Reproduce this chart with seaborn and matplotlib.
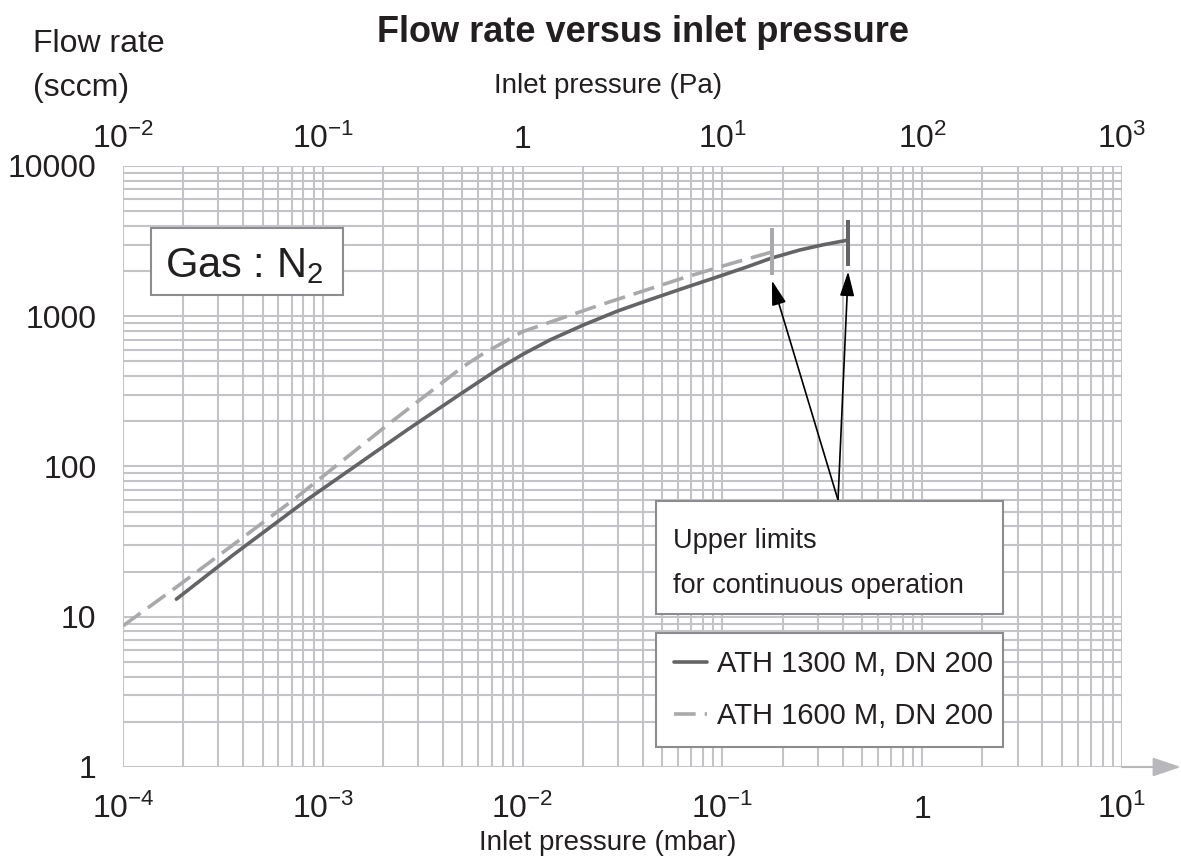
import numpy as np
import pandas as pd
import matplotlib
matplotlib.use("Agg")
import matplotlib.pyplot as plt
from matplotlib.patches import Rectangle
from matplotlib.ticker import LogLocator, NullLocator, NullFormatter
import seaborn as sns

# ---------------------------------------------------------------- data
label_1300 = "ATH 1300 M, DN 200"
label_1600 = "ATH 1600 M, DN 200"

# inlet pressure (mbar) / flow rate (sccm)
p_1300 = [1.85e-4, 3.56e-4, 8.3e-4, 2.64e-3, 5.0e-3, 7.7e-3, 1.0e-2, 1.37e-2, 2.0e-2,
          3.0e-2, 4.34e-2, 6.3e-2, 9.4e-2, 1.3e-1, 1.77e-1, 2.44e-1, 3.2e-1, 4.26e-1]
q_1300 = [13.1, 25.8, 59.8, 175, 310, 453, 557, 695, 871,
          1086, 1290, 1528, 1824, 2110, 2443, 2760, 2992, 3215]

p_1600 = [1.0e-4, 1.82e-4, 7.1e-4, 2.17e-3, 5.0e-3, 6.3e-3, 1.0e-2, 2.44e-2, 6.35e-2,
          1.13e-1, 1.77e-1]
q_1600 = [8.7, 15.5, 59.8, 195, 459, 560, 790, 1188, 1796,
          2262, 2678]

# upper limits for continuous operation (pressure, flow span of the marker)
limit_p = [0.177, 0.426]
limit_q_low = [1880, 2160]
limit_q_high = [3870, 4370]

x_ticks_mbar = [1e-4, 1e-3, 1e-2, 1e-1, 1, 1e1]
x_labels_mbar = [r"$\mathregular{10^{-4}}$", r"$\mathregular{10^{-3}}$", r"$\mathregular{10^{-2}}$",
                 r"$\mathregular{10^{-1}}$", "1", r"$\mathregular{10^{1}}$"]
x_ticks_pa = [1e-2, 1e-1, 1, 1e1, 1e2, 1e3]
x_labels_pa = [r"$\mathregular{10^{-2}}$", r"$\mathregular{10^{-1}}$", "1",
               r"$\mathregular{10^{1}}$", r"$\mathregular{10^{2}}$", r"$\mathregular{10^{3}}$"]
y_ticks = [1, 10, 100, 1000, 10000]
y_labels = ["1", "10", "100", "1000", "10000"]

# ---------------------------------------------------------------- style
sns.set_style("white")
plt.rcParams["font.family"] = ["Liberation Sans", "DejaVu Sans"]
plt.rcParams["mathtext.fontset"] = "custom"
plt.rcParams["mathtext.rm"] = "Liberation Sans"
plt.rcParams["mathtext.it"] = "Liberation Sans"
plt.rcParams["mathtext.bf"] = "Liberation Sans:bold"

TEXT = "#231f20"
GRID = "#c4c4c8"
DARK = "#646467"
LIGHT = "#a9a9ac"
FRAME = "#8c8c90"

W, H = 1181, 865


def fx(px):
    return px / W


def fy(py):
    return 1 - py / H


fig = plt.figure(figsize=(W / 100, H / 100), dpi=100)
ax = fig.add_axes([fx(123), fy(767), (1122 - 123) / W, (767 - 166) / H])

ax.set_xscale("log")
ax.set_yscale("log")

df = pd.concat([
    pd.DataFrame({"p": p_1300, "q": q_1300, "model": label_1300}),
    pd.DataFrame({"p": p_1600, "q": q_1600, "model": label_1600}),
], ignore_index=True)

sns.lineplot(data=df, x="p", y="q", hue="model", style="model",
             palette={label_1300: DARK, label_1600: LIGHT},
             dashes={label_1300: "", label_1600: (6, 2.5)},
             linewidth=2.6, sort=False, estimator=None, legend=False, ax=ax)

# limit markers
ax.vlines(limit_p[0], limit_q_low[0], limit_q_high[0], color=LIGHT, lw=2.9, zorder=3)
ax.vlines(limit_p[1], limit_q_low[1], limit_q_high[1], color=DARK, lw=2.9, zorder=3)

ax.set_xlim(1e-4, 1e1)
ax.set_ylim(1, 1e4)

# grid
ax.xaxis.set_minor_locator(LogLocator(base=10, subs=np.arange(2, 10), numticks=20))
ax.yaxis.set_minor_locator(LogLocator(base=10, subs=np.arange(2, 10), numticks=20))
ax.xaxis.set_minor_formatter(NullFormatter())
ax.yaxis.set_minor_formatter(NullFormatter())
ax.grid(which="both", color=GRID, lw=1.5)
ax.set_axisbelow(True)
for s in ax.spines.values():
    s.set_visible(False)

# ticks
ax.set_xticks(x_ticks_mbar, x_labels_mbar)
ax.set_yticks(y_ticks, y_labels)
ax.tick_params(axis="x", which="both", length=0, pad=36.5, labelsize=23, colors=TEXT)
ax.tick_params(axis="y", which="major", length=3.6, width=1.5, color=GRID, pad=15.5,
               labelsize=23, labelcolor=TEXT)
ax.tick_params(axis="y", which="minor", length=0)
for t in ax.xaxis.get_major_ticks():
    t.label1.set_verticalalignment("baseline")

# top axis in Pa
sec = ax.secondary_xaxis("top", functions=(lambda m: m * 100, lambda pa: pa / 100))
sec.set_xticks(x_ticks_pa, x_labels_pa)
sec.xaxis.set_minor_locator(NullLocator())
sec.tick_params(axis="x", which="both", length=0, pad=13, labelsize=23, colors=TEXT)
for t in sec.xaxis.get_major_ticks():
    t.label2.set_verticalalignment("baseline")
for s in sec.spines.values():
    s.set_visible(False)

# axis labels and title
ax.set_xlabel("Inlet pressure (mbar)", fontsize=20, color=TEXT)
ax.xaxis.set_label_coords(0.4855, (767 - 850) / 601)
ax.xaxis.label.set_verticalalignment("baseline")

sec.set_xlabel("Inlet pressure (Pa)", fontsize=20, color=TEXT)
sec.xaxis.set_label_coords(0.4855, (767 - 93) / 601, transform=ax.transAxes)
sec.xaxis.label.set_verticalalignment("baseline")

ax.set_ylabel("Flow rate\n(sccm)", fontsize=23, color=TEXT, rotation=0,
              ha="left", va="baseline", linespacing=1.6)
ax.yaxis.set_label_coords((33 - 123) / 999, (767 - 82) / 601)

ax.set_title("Flow rate versus inlet pressure", fontsize=26, fontweight="bold",
             color=TEXT, x=(643 - 123) / 999, y=(767 - 50) / 601, va="baseline")

# x axis arrow
ax.annotate("", xy=(1.059, 0), xytext=(1.0, 0), xycoords="axes fraction",
            textcoords="axes fraction", annotation_clip=False,
            arrowprops=dict(arrowstyle="-|>,head_length=1.73,head_width=0.58",
                            mutation_scale=10, color="#b8b8bc", lw=1.5,
                            shrinkA=0, shrinkB=0))

# gas box
fig.add_artist(Rectangle((fx(151), fy(295)), (343 - 151) / W, (295 - 228) / H,
                         transform=fig.transFigure, facecolor="white",
                         edgecolor=FRAME, lw=1.5, zorder=5))
fig.text(fx(165), fy(277), r"Gas : N$_\mathregular{2}$", fontsize=30, color=TEXT,
         va="baseline", zorder=6)

# upper limit note with arrows
fig.add_artist(Rectangle((fx(656), fy(614)), (1003 - 656) / W, (614 - 501) / H,
                         transform=fig.transFigure, facecolor="white",
                         edgecolor=FRAME, lw=1.5, zorder=5))
fig.text(fx(673), fy(593), "Upper limits\nfor continuous operation", fontsize=19.5,
         color=TEXT, va="baseline", linespacing=1.93, zorder=6)

tail = (0.379, 59.8)
for lp, lo in zip(limit_p, limit_q_low):
    ax.annotate("", xy=(lp, lo * 0.92), xytext=tail,
                arrowprops=dict(arrowstyle="-|>,head_length=0.75,head_width=0.22",
                                mutation_scale=20, color="black", lw=1.2,
                                shrinkA=0, shrinkB=0), zorder=4)

# legend
leg = ax.legend(ax.lines[:2], [label_1300, label_1600], loc="upper left",
                bbox_to_anchor=(fx(656), fy(633), (1003 - 656) / W, 0.0),
                bbox_transform=fig.transFigure, mode="expand", borderaxespad=0,
                fontsize=21, handlelength=1.15, handletextpad=0.35, borderpad=0.6,
                labelspacing=0.8, fancybox=False, framealpha=1, edgecolor=FRAME)
leg.get_frame().set_linewidth(1.5)
for txt in leg.get_texts():
    txt.set_color(TEXT)
leg.set_zorder(6)

fig.savefig("out.png", dpi=100, facecolor="white")
